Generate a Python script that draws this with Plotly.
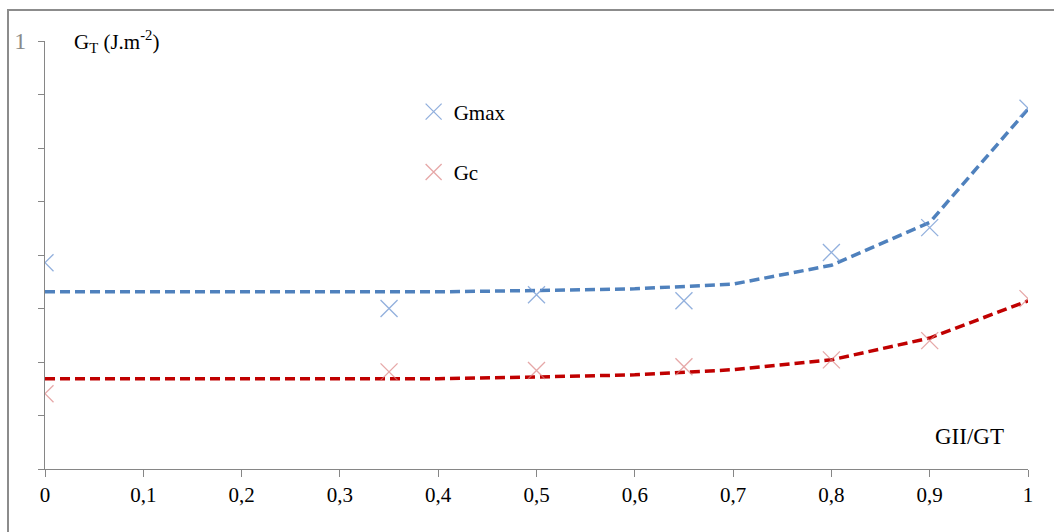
import plotly.graph_objects as go

# Measured points
x_pts = [0, 0.35, 0.5, 0.65, 0.8, 0.9, 1.0]
gmax_pts = [0.482, 0.375, 0.407, 0.393, 0.506, 0.564, 0.843]
gc_pts = [0.176, 0.227, 0.230, 0.239, 0.255, 0.300, 0.398]

# Fitted curves (dashed)
x_fit = [0, 0.1, 0.2, 0.3, 0.4, 0.5, 0.6, 0.7, 0.8, 0.9, 1.0]
gmax_fit = [0.414, 0.414, 0.414, 0.414, 0.414, 0.417, 0.421, 0.432, 0.476, 0.576, 0.841]
gc_fit = [0.211, 0.211, 0.211, 0.211, 0.211, 0.215, 0.220, 0.232, 0.255, 0.306, 0.393]

x_ticks = [0, 0.1, 0.2, 0.3, 0.4, 0.5, 0.6, 0.7, 0.8, 0.9, 1.0]
x_ticktext = ["0", "0,1", "0,2", "0,3", "0,4", "0,5", "0,6", "0,7", "0,8", "0,9", "1"]
y_ticks = [1.0]
y_ticktext = ["1"]

SERIF = "Liberation Serif, Times New Roman, serif"
BLUE = "#4f81bd"
RED = "#c00000"

fig = go.Figure()
fig.add_trace(go.Scatter(x=x_fit, y=gmax_fit, mode="lines", showlegend=False,
                         line=dict(color=BLUE, width=3.5, dash="10px,5px")))
fig.add_trace(go.Scatter(x=x_fit, y=gc_fit, mode="lines", showlegend=False,
                         line=dict(color=RED, width=3.5, dash="10px,5px")))
fig.add_trace(go.Scatter(x=x_pts, y=gmax_pts, mode="markers", name="Gmax", legendgroup="a",
                         marker=dict(symbol="x-thin", size=17,
                                     line=dict(color="rgba(110,150,210,0.75)", width=1.3))))
fig.add_trace(go.Scatter(x=x_pts, y=gc_pts, mode="markers", name="Gc", legendgroup="b",
                         marker=dict(symbol="x-thin", size=17,
                                     line=dict(color="rgba(220,130,130,0.7)", width=1.3))))

fig.update_layout(
    width=1054, height=532,
    margin=dict(l=45, r=26, t=41, b=63),
    paper_bgcolor="white", plot_bgcolor="white",
    font=dict(family=SERIF, size=20, color="black"),
    legend=dict(x=0.375, y=0.882, xanchor="left", yanchor="top",
                bgcolor="rgba(0,0,0,0)", tracegroupgap=30,
                traceorder="grouped", font=dict(family=SERIF, size=21)),
    xaxis=dict(range=[0, 1], tickvals=x_ticks, ticktext=x_ticktext,
               showgrid=False, zeroline=False, showline=True, linecolor="#868686",
               linewidth=1, ticks="outside", ticklen=7, tickcolor="#868686",
               tickfont=dict(family=SERIF, size=21, color="black")),
    yaxis=dict(range=[0, 1], tickvals=y_ticks, ticktext=y_ticktext,
               showgrid=False, zeroline=False, showline=True, linecolor="#868686",
               linewidth=1, ticks="outside", ticklen=6, tickcolor="#868686",
               ticklabelstandoff=7,
               minor=dict(dtick=0.125, tick0=0, ticks="outside", ticklen=6,
                          tickcolor="#868686", showgrid=False),
               tickfont=dict(family=SERIF, size=24, color="#8a8a8a")),
    annotations=[
        dict(text="G<sub>T</sub> (J.m<sup>-2</sup>)", xref="paper", yref="paper",
             x=0.027, y=1.0, xanchor="left", yanchor="middle", showarrow=False,
             font=dict(family=SERIF, size=21, color="black")),
        dict(text="GII/GT", xref="paper", yref="paper",
             x=0.978, y=0.075, xanchor="right", yanchor="middle", showarrow=False,
             font=dict(family=SERIF, size=23, color="black")),
    ],
    shapes=[
        dict(type="rect", xref="paper", yref="paper",
             x0=(8 - 45) / 983, x1=(1080 - 45) / 983,
             y0=(469 - 545) / 428, y1=(469 - 10) / 428,
             line=dict(color="#8c8c8c", width=2), fillcolor="rgba(0,0,0,0)", layer="below"),
    ],
)

fig.write_html("out.html")
